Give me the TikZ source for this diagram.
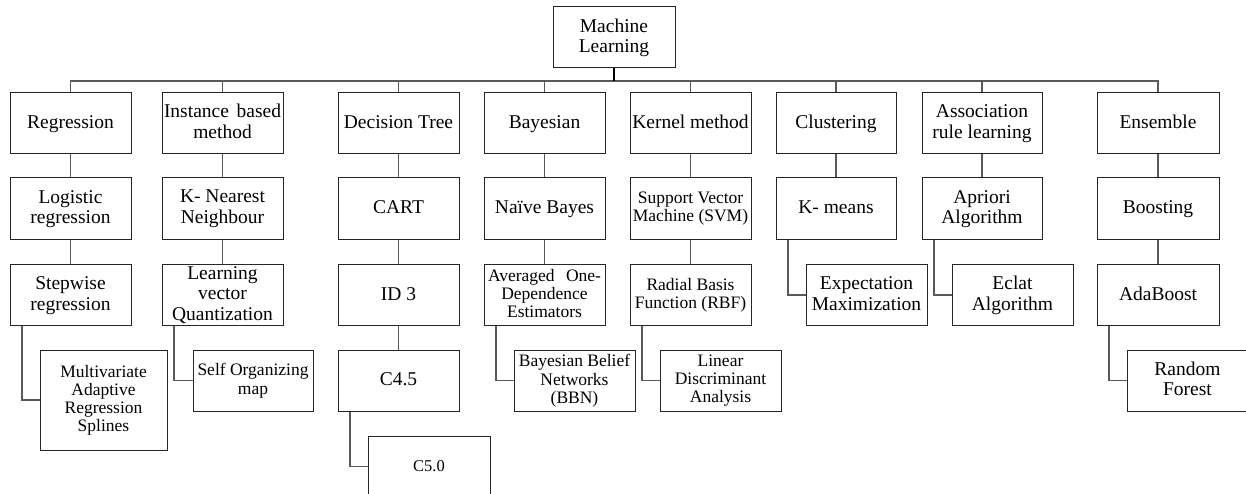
\documentclass[tikz,border=0pt]{standalone}
\usepackage{fontspec}
\setmainfont{Liberation Serif}
\newcommand\fbig{\fontsize{19.5}{20.5}\selectfont}
\newcommand\fsml{\fontsize{17.5}{18.3}\selectfont}
\newcommand\ftiny{\fontsize{16.5}{18}\selectfont}
\begin{document}
\begin{tikzpicture}[x=1pt,y=-1pt,
  box/.style={draw=black!85, line width=1pt, inner sep=0pt, align=center,
    minimum width=121pt, minimum height=61pt, font=\fbig,
    execute at begin node=\strut, text depth=3.4pt},
  smallbox/.style={box, font=\fsml, text depth=3.2pt},
  conn/.style={draw=black!65, line width=1.1pt},
  elbow/.style={conn}]
\clip (0,0) rectangle (1246,494);
\fill[white] (0,0) rectangle (1246,494);
\coordinate (bus) at (0,81);
% root
\node[box, minimum width=122pt] (ml) at (614,37.5) {Machine\\Learning};
% level 1
\node[box] (reg) at (70.5,123) {Regression};
\node[box] (inst) at (222.5,123) {\makebox[117pt][s]{Instance based}\\method};
\node[box] (dt) at (398.5,123) {Decision Tree};
\node[box] (bay) at (544.5,123) {Bayesian};
\node[box] (ker) at (690.5,123) {Kernel method};
\node[box, minimum width=120pt] (clu) at (836,123) {Clustering};
\node[box, minimum width=120pt] (asc) at (982,123) {Association\\rule learning};
\node[box, minimum width=122pt] (ens) at (1158,123) {Ensemble};
% level 2
\node[box] (log) at (70.5,208.5) {Logistic\\regression};
\node[box] (knn) at (222.5,208.5) {K- Nearest\\Neighbour};
\node[box] (cart) at (398.5,208.5) {CART};
\node[box] (nb) at (544.5,208.5) {Naïve Bayes};
\node[smallbox] (svm) at (690.5,208.5) {Support Vector\\Machine (SVM)};
\node[box, minimum width=120pt] (km) at (836,208.5) {K- means};
\node[box, minimum width=120pt] (apr) at (982,208.5) {Apriori\\Algorithm};
\node[box, minimum width=122pt] (boost) at (1158,208.5) {Boosting};
% level 3
\node[box] (step) at (70.5,295) {Stepwise\\regression};
\node[box] (lvq) at (222.5,295) {Learning\\vector\\Quantization};
\node[box] (id3) at (398.5,295) {ID 3};
\node[smallbox] (aode) at (544.5,295) {\makebox[113pt][s]{Averaged One-}\\Dependence\\Estimators};
\node[smallbox] (rbf) at (690.5,295) {Radial Basis\\Function (RBF)};
\node[box] (em) at (866.5,295) {Expectation\\Maximization};
\node[box] (ecl) at (1012.5,295) {Eclat\\Algorithm};
\node[box, minimum width=122pt] (ada) at (1158,295) {AdaBoost};
% level 4
\node[smallbox, minimum width=127pt, minimum height=100pt] (mars) at (103.5,400) {Multivariate\\Adaptive\\Regression\\Splines};
\node[smallbox, minimum width=120pt] (som) at (253,380.5) {Self Organizing\\map};
\node[box] (c45) at (398.5,380.5) {C4.5};
\node[box, minimum width=122pt, font=\ftiny, text depth=3.2pt] (c50) at (429,466.5) {C5.0};
\node[smallbox] (bbn) at (574.5,380.5) {Bayesian Belief\\Networks\\(BBN)};
\node[smallbox] (lda) at (720.5,380.5) {Linear\\Discriminant\\Analysis};
\node[box] (rf) at (1187.5,380.5) {Random\\Forest};
% bus
\draw[conn] (reg.north) -- (reg.north |- bus) -- (ens.north |- bus) -- (ens.north);
\draw[draw=black, line width=1.3pt] (ml.south) -- (ml.south |- bus);
\foreach \n in {inst,dt,bay,ker,clu,asc}
  \draw[conn] (\n.north) -- (\n.north |- bus);
% straight stems
\foreach \a/\b in {reg/log, log/step, inst/knn, knn/lvq, dt/cart, cart/id3, id3/c45,
  bay/nb, nb/aode, ker/svm, svm/rbf, clu/km, asc/apr, ens/boost, boost/ada}
  \draw[conn] (\a.south) -- (\b.north);
% elbows
\foreach \a/\b in {step/mars, lvq/som, c45/c50, aode/bbn, rbf/lda, km/em, apr/ecl, ada/rf}
  \draw[elbow] ([xshift=12.5pt]\a.south west) |- (\b.west);
\end{tikzpicture}
\end{document}
